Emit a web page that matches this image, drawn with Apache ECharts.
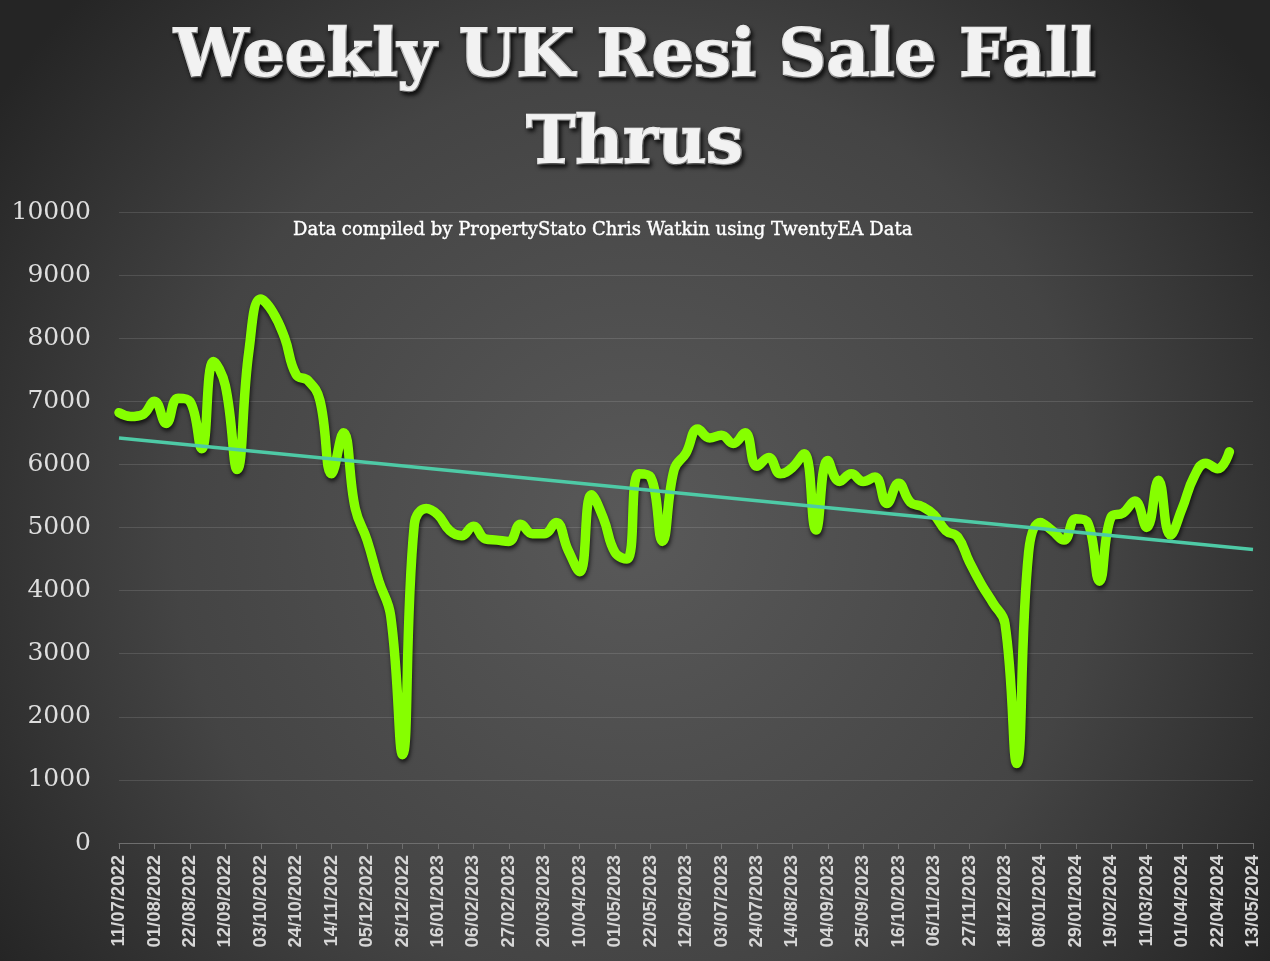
<!DOCTYPE html>
<html>
<head>
<meta charset="utf-8">
<script src="https://cdn.jsdelivr.net/npm/echarts@6/dist/echarts.min.js"></script>
<style>
html,body{margin:0;padding:0;background:#333;}
#chart{width:1270px;height:961px;}
</style>
</head>
<body>
<div id="chart"></div>
<script>
// Weekly fall-through counts, week commencing 11/07/2022 onwards
var fallThrus = [
  6820, 6760, 6790, 7000, 6650, 7050, 7000, 6250, 7630, 7250,
  5920, 7800, 8620, 8420, 8020, 7420, 7330, 7020, 5850, 6500,
  5300, 4800, 4150, 3600, 1400, 5050, 5300, 5200, 4950, 4870,
  5020, 4820, 4800, 4780, 5050, 4900, 4900, 5080, 4650, 4300,
  5520, 5150, 4600, 4500, 5850, 5800, 4780, 5920, 6180, 6560,
  6420, 6460, 6330, 6500, 5970, 6110, 5850, 5950, 6170, 4960,
  6060, 5730, 5850, 5730, 5800, 5380, 5700, 5400, 5330, 5200,
  4950, 4850, 4450, 4100, 3800, 3480, 1260, 4600, 5080, 4950,
  4800, 5140, 5080, 4150, 5170, 5230, 5420, 5000, 5750, 4880,
  5300, 5800, 6020, 5930, 6200
];
// Linear trend line end points
var trendStart = 6420;
var trendEnd = 4650;

// Tick labels shown on the x axis (every third week)
var tickLabels = [
  '11/07/2022','01/08/2022','22/08/2022','12/09/2022','03/10/2022','24/10/2022',
  '14/11/2022','05/12/2022','26/12/2022','16/01/2023','06/02/2023','27/02/2023',
  '20/03/2023','10/04/2023','01/05/2023','22/05/2023','12/06/2023','03/07/2023',
  '24/07/2023','14/08/2023','04/09/2023','25/09/2023','16/10/2023','06/11/2023',
  '27/11/2023','18/12/2023','08/01/2024','29/01/2024','19/02/2024','11/03/2024',
  '01/04/2024','22/04/2024','13/05/2024'
];
var yTicks = [0,1000,2000,3000,4000,5000,6000,7000,8000,9000,10000];

// weekly categories 11/07/2022 .. 13/05/2024
var categories = [];
(function(){
  var d = new Date(Date.UTC(2022,6,11));
  for (var i = 0; i <= 96; i++) {
    var dd = String(d.getUTCDate()).padStart(2,'0');
    var mm = String(d.getUTCMonth()+1).padStart(2,'0');
    categories.push(dd + '/' + mm + '/' + d.getUTCFullYear());
    d = new Date(d.getTime() + 7*86400000);
  }
})();

var chart = echarts.init(document.getElementById('chart'));
chart.setOption({
  backgroundColor: {
    type: 'radial', x: 0.5, y: 0.55, r: 0.8,
    colorStops: [
      {offset: 0, color: '#595959'},
      {offset: 0.6, color: '#444444'},
      {offset: 1, color: '#252525'}
    ]
  },
  animation: false,
  title: [{
    text: 'Weekly UK Resi Sale Fall\nThrus',
    left: 'center',
    top: 10,
    textStyle: {
      fontFamily: 'DejaVu Serif',
      fontWeight: 'bold',
      fontSize: 66,
      lineHeight: 87,
      color: '#f2f2f2',
      textBorderColor: '#f2f2f2',
      textBorderWidth: 2.5,
      textShadowColor: 'rgba(0,0,0,0.75)',
      textShadowBlur: 4,
      textShadowOffsetX: 2,
      textShadowOffsetY: 3
    }
  }, {
    text: 'Data compiled by PropertyStato Chris Watkin using TwentyEA Data',
    left: 288,
    top: 216,
    textStyle: {
      fontFamily: 'DejaVu Serif',
      fontWeight: 'normal',
      fontSize: 18,
      color: '#ffffff',
      textBorderColor: '#ffffff',
      textBorderWidth: 0.4
    }
  }],
  grid: {left: 119, right: 17, top: 212, bottom: 118, containLabel: false},
  xAxis: {
    type: 'category',
    data: categories,
    boundaryGap: false,
    axisLine: {lineStyle: {color: '#6e6e6e', width: 1}},
    axisTick: {
      show: true, length: 6, interval: function(i, v){ return tickLabels.indexOf(v) >= 0; },
      lineStyle: {color: '#6e6e6e'}
    },
    axisLabel: {
      interval: function(i, v){ return tickLabels.indexOf(v) >= 0; },
      rotate: 90,
      margin: 12,
      color: '#d6d6d6',
      fontFamily: 'Liberation Sans',
      fontWeight: 'bold',
      fontSize: 18.5
    },
    splitLine: {show: false}
  },
  yAxis: {
    type: 'value',
    min: 0, max: 10000, interval: 1000,
    axisLine: {show: false},
    axisTick: {show: false},
    axisLabel: {
      color: '#dedede',
      fontFamily: 'DejaVu Serif',
      fontSize: 25,
      margin: 28,
      formatter: function(v){ return yTicks.indexOf(v) >= 0 ? String(v) : ''; }
    },
    splitLine: {lineStyle: {color: 'rgba(255,255,255,0.12)', width: 1}}
  },
  series: [{
    name: 'Fall Thrus',
    type: 'line',
    data: fallThrus,
    smooth: 0.45,
    symbol: 'none',
    lineStyle: {
      color: '#86ff00',
      width: 9.5,
      cap: 'round',
      join: 'round',
      shadowColor: 'rgba(0,0,0,0.7)',
      shadowBlur: 4,
      shadowOffsetX: 1,
      shadowOffsetY: 3
    },
    z: 2
  }, {
    name: 'Trend',
    type: 'line',
    data: [[categories[0], trendStart], [categories[96], trendEnd]],
    symbol: 'none',
    lineStyle: {color: '#4ecaa6', width: 3.5},
    z: 3
  }]
});
</script>
</body>
</html>
